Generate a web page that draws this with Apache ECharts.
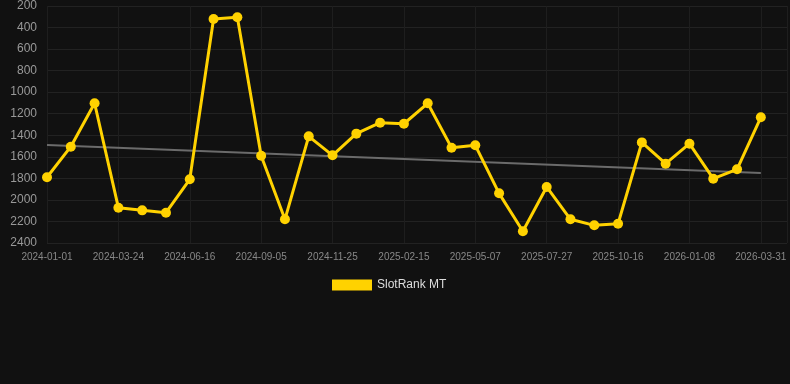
<!DOCTYPE html>
<html>
<head>
<meta charset="utf-8">
<script src="https://cdn.jsdelivr.net/npm/echarts@6/dist/echarts.min.js"></script>
<style>
  html, body { margin: 0; padding: 0; background: #111111; }
  #chart { width: 790px; height: 384px; }
</style>
</head>
<body>
<div id="chart"></div>
<script>
const dates = [
  '2024-01-01', '2024-01-28', '2024-02-25', '2024-03-24', '2024-04-21', '2024-05-19',
  '2024-06-16', '2024-07-13', '2024-08-09', '2024-09-05', '2024-10-02', '2024-10-29',
  '2024-11-25', '2024-12-23', '2025-01-19', '2025-02-15', '2025-03-14', '2025-04-10',
  '2025-05-07', '2025-06-03', '2025-06-30', '2025-07-27', '2025-08-23', '2025-09-19',
  '2025-10-16', '2025-11-12', '2025-12-11', '2026-01-08', '2026-02-04', '2026-03-03',
  '2026-03-31'
];
const rank = [
  1790, 1506, 1103, 2072, 2097, 2119, 1809, 321, 305, 1590,
  2180, 1410, 1586, 1385, 1283, 1293, 1103, 1515, 1493, 1939,
  2291, 1880, 2180, 2236, 2221, 1466, 1664, 1478, 1803, 1716,
  1233
];
const trendStart = 1490;
const trendEnd = 1750;
const yTicks = [200, 400, 600, 800, 1000, 1200, 1400, 1600, 1800, 2000, 2200, 2400];

const chart = echarts.init(document.getElementById('chart'));

chart.setOption({
  backgroundColor: '#111111',
  animation: false,
  grid: { left: 47, right: 0, top: 6, bottom: 141 },
  legend: {
    data: ['SlotRank MT'],
    top: 274,
    left: 327,
    icon: 'rect',
    itemWidth: 40,
    itemHeight: 11,
    itemGap: 10,
    textStyle: { color: '#dddddd', fontSize: 12, fontFamily: 'Liberation Sans, Arial, sans-serif' }
  },
  xAxis: {
    type: 'value',
    min: 0,
    max: 31.1,
    interval: 3,
    axisLine: { show: false },
    axisTick: { show: false },
    axisLabel: {
      color: '#888888',
      fontSize: 10,
      margin: 9,
      fontFamily: 'Liberation Sans, Arial, sans-serif',
      formatter: (v) => {
        const i = Math.round(v);
        return Math.abs(v - i) < 1e-6 && dates[i] ? dates[i] : '';
      }
    },
    splitLine: { show: true, lineStyle: { color: '#1e1e1e', width: 1 } }
  },
  yAxis: {
    type: 'value',
    inverse: true,
    min: yTicks[0],
    max: yTicks[yTicks.length - 1],
    interval: 200,
    axisLine: { show: false },
    axisTick: { show: false },
    axisLabel: {
      color: '#999999',
      fontSize: 12,
      margin: 10,
      fontFamily: 'Liberation Sans, Arial, sans-serif',
      formatter: (v) => String(v)
    },
    splitLine: { lineStyle: { color: '#222222', width: 1 } }
  },
  series: [
    {
      name: 'Trend',
      type: 'line',
      data: [[0, trendStart], [dates.length - 1, trendEnd]],
      symbol: 'none',
      lineStyle: { color: '#6b6b6b', width: 2 },
      z: 1
    },
    {
      name: 'SlotRank MT',
      type: 'line',
      data: rank.map((v, i) => [i, v]),
      symbol: 'circle',
      symbolSize: 10,
      itemStyle: { color: '#FFD200' },
      lineStyle: { color: '#FFD200', width: 3 },
      z: 3
    }
  ]
});
</script>
</body>
</html>
